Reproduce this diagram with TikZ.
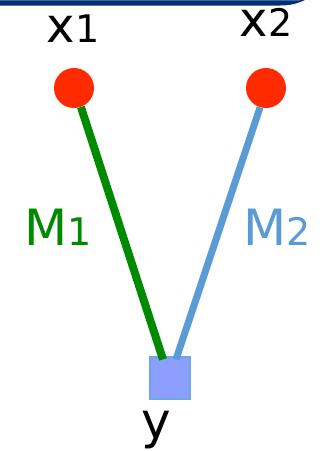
\documentclass[tikz,border=0pt]{standalone}
\usepackage{fontspec}
\setmainfont{DejaVu Sans}
\usetikzlibrary{calc}
\definecolor{navy}{RGB}{0,48,112}
\definecolor{navylite}{RGB}{60,100,160}
\definecolor{dotred}{RGB}{255,42,0}
\definecolor{mgreen}{RGB}{0,138,0}
\definecolor{mblue}{RGB}{91,155,213}
\definecolor{sqfill}{RGB}{140,158,255}
\definecolor{sqedge}{RGB}{111,168,220}
\newcommand\dg[1]{{\fontsize{38}{38}\selectfont #1}}
\tikzset{
  lab/.style={inner sep=0pt, anchor=base, font=\fontsize{50}{50}\selectfont},
  xlab/.style={lab, font=\fontsize{48}{48}\selectfont},
  dot/.style={circle, fill=dotred, minimum size=40pt, inner sep=0pt},
  sq/.style={rectangle, fill=sqfill, draw=sqedge, line width=1.2pt, minimum width=40pt, minimum height=42pt, inner sep=0pt},
  edge/.style={line width=#1}
}
\begin{document}
\begin{tikzpicture}[x=1pt,y=-1pt]
\useasboundingbox (0,0) rectangle (325,451);
% top bar (cropped slide element)
\fill[navy] (0,0) -- (305,0) .. controls (298,3) and (292,5.5) .. (280,5.5) -- (0,5.5) -- cycle;
\fill[navylite] (0,0) rectangle (300,1);
% nodes
\node[dot] (a) at (74,88) {};
\node[dot] (b) at (266,88) {};
\node[sq] (y) at (170,378) {};
\node[xlab] (ta) at (73,42) {x\dg{1}};
\node[xlab] (tb) at (266,36) {x\dg{2}};
\node[lab, text=mgreen] (m1) at (58,245) {M\dg{1}};
\node[lab, text=mblue] (m2) at (277,245) {M\dg{2}};
\node[lab] (ty) at (156,438) {y};
% connectors
\draw[edge=8pt, mgreen] (a.-70) -- ($(y.north)+(-7,3)$);
\draw[edge=7pt, mblue] (b.-107) -- ($(y.north)+(6,3)$);
\end{tikzpicture}
\end{document}
